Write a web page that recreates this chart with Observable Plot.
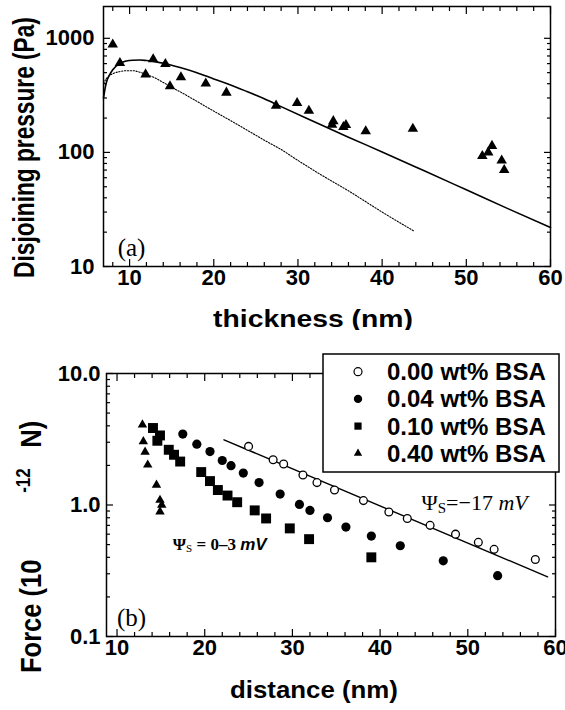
<!DOCTYPE html>
<html><head><meta charset="utf-8">
<script src="https://cdn.jsdelivr.net/npm/d3@7"></script>
<script src="https://cdn.jsdelivr.net/npm/@observablehq/plot@0.6"></script>
<style>
body{margin:0;background:#fff;}
#wrap{position:relative;width:565px;height:710px;background:#fff;overflow:hidden;}
#wrap svg{position:absolute;left:0;overflow:visible;}
</style></head><body><div id="wrap"></div>
<script>
// ---------- Panel (a) data ----------
const aThickness = [8.0, 8.85, 11.9, 12.8, 14.25, 14.8, 16.1, 19.05, 21.5, 27.4, 29.9, 31.3, 34.2, 34.05, 35.4, 35.7, 38.05, 43.65, 51.9, 52.6, 53.05, 54.2, 54.5];
const aPressure  = [881, 607, 483, 655, 596, 380, 455, 401, 334, 257, 271, 232, 188, 175, 167, 174, 153, 161, 93, 100, 114, 85, 70];
const solidX = [6.9, 7.2, 7.6, 8.0, 8.8, 9.6, 10.4, 11.2, 12, 13, 14, 16, 18, 20, 22, 24, 26, 28, 32, 36, 40, 45, 50, 55, 60];
const solidY = [300, 400, 475, 530, 600, 632, 643, 645, 638, 625, 605, 555, 500, 440, 390, 340, 295, 252, 185, 136, 101, 69, 47, 32, 22];
const dottedX = [6.9, 7.2, 7.6, 8, 8.8, 9.6, 10.4, 11.2, 12, 13, 14, 15, 16, 18, 20, 22, 24, 26, 28, 30, 33, 36, 40, 43.85];
const dottedY = [400, 440, 470, 490, 510, 520, 520, 505, 480, 450, 410, 372, 340, 280, 230, 190, 156, 128, 106, 85, 62, 46, 30, 20.3];
const aXTicks = [10, 20, 30, 40, 50, 60];
const aXMinor = [8, 12, 14, 16, 18, 22, 24, 26, 28, 32, 34, 36, 38, 42, 44, 46, 48, 52, 54, 56, 58];
const aYTicks = [10, 100, 1000];
const aYLabels = ["10", "100", "1000"];
const aYMinor = [20, 30, 40, 50, 60, 70, 80, 90, 200, 300, 400, 500, 600, 700, 800, 900];

// ---------- Panel (b) data ----------
const bSeries = ["0.00 wt% BSA", "0.04 wt% BSA", "0.10 wt% BSA", "0.40 wt% BSA"];
const bsa000X = [25.0, 27.8, 29.0, 31.2, 32.8, 34.8, 38.1, 41.0, 43.1, 45.7, 48.6, 51.2, 53.0, 57.7];
const bsa000F = [2.79, 2.21, 2.05, 1.69, 1.48, 1.30, 1.08, 0.885, 0.79, 0.70, 0.60, 0.52, 0.46, 0.385];
const bsa004X = [17.5, 19.1, 20.6, 22.0, 23.0, 24.4, 26.2, 28.6, 30.8, 32.0, 34.0, 36.1, 39.0, 42.3, 47.2, 53.4];
const bsa004F = [3.46, 2.90, 2.55, 2.18, 1.99, 1.75, 1.48, 1.21, 1.01, 0.91, 0.80, 0.68, 0.58, 0.49, 0.376, 0.29];
const bsa010X = [14.1, 14.9, 14.6, 15.9, 16.5, 17.2, 19.6, 20.6, 21.5, 22.6, 23.7, 25.7, 27.0, 29.7, 31.9, 39.0];
const bsa010F = [3.85, 3.38, 3.08, 2.63, 2.41, 2.14, 1.78, 1.52, 1.30, 1.18, 1.05, 0.91, 0.79, 0.664, 0.55, 0.40];
const bsa040X = [12.9, 13.0, 13.2, 13.5, 14.5, 14.9, 15.1, 14.9];
const bsa040F = [4.08, 3.04, 2.53, 2.02, 1.42, 1.09, 1.0, 0.89];
const fitX = [22.2, 59.1];
const fitF = [3.13, 0.284];
const bXTicks = [10, 20, 30, 40, 50, 60];
const bXMinor = [12, 14, 16, 18, 22, 24, 26, 28, 32, 34, 36, 38, 42, 44, 46, 48, 52, 54, 56, 58];
const bYTicks = [0.1, 1, 10];
const bYLabels = ["0.1", "1.0", "10.0"];
const bYMinor = [0.2, 0.3, 0.4, 0.5, 0.6, 0.7, 0.8, 0.9, 2, 3, 4, 5, 6, 7, 8, 9];
// annotation anchors (data coordinates)
const noteHigh = {x: 44.78, y: 0.905, value: "−17"};
const noteLow = {x: 16.42, y: 0.453, value: "0–3"};

const zip = (xs, ys) => xs.map((x, i) => ({x, y: ys[i]}));
const SANS = "'Liberation Sans', Arial, Helvetica, sans-serif";
const SERIF = "'Liberation Serif', 'Times New Roman', serif";

function frameAxes(xMaj, xMin, yMaj, yMin, yFmt, xPad, yPad) {
  const tk = {fill: "none", strokeWidth: 1.2, label: null};
  return [
    Plot.axisX(xMaj, {...tk, anchor: "bottom", tickSize: 7, insetBottom: 7}),
    Plot.axisX(xMin, {...tk, anchor: "bottom", tickSize: 4, insetBottom: 4}),
    Plot.axisX(xMaj, {...tk, anchor: "top", tickSize: 7, insetTop: 7}),
    Plot.axisX(xMin, {...tk, anchor: "top", tickSize: 4, insetTop: 4}),
    Plot.axisY(yMaj, {...tk, anchor: "left", tickSize: 7, insetLeft: 7}),
    Plot.axisY(yMin, {...tk, anchor: "left", tickSize: 4, insetLeft: 4}),
    Plot.axisY(yMaj, {...tk, anchor: "right", tickSize: 7, insetRight: 7}),
    Plot.axisY(yMin, {...tk, anchor: "right", tickSize: 4, insetRight: 4}),
    Plot.axisX(xMaj, {anchor: "bottom", tickSize: 0, tickPadding: xPad, fontSize: 22, fontWeight: "bold", label: null}),
    Plot.axisY(yMaj, {anchor: "left", tickSize: 0, tickPadding: yPad, tickFormat: yFmt, fontSize: 22, fontWeight: "bold", label: null})
  ];
}

// a title fitted to a given length by scaling along its baseline
function fittedTitle(sel, str, cx, cy, size, len, rotate) {
  const g = sel.append("g").attr("transform", `translate(${cx},${cy})${rotate ? " rotate(-90)" : ""}`);
  const t = g.append("text").attr("text-anchor", "middle").attr("font-family", SANS)
    .attr("font-weight", "bold").attr("font-size", size).attr("fill", "black").text(str);
  const w = t.node().getComputedTextLength();
  t.attr("transform", `scale(${len / w},1)`);
  return t;
}

const wrap = document.getElementById("wrap");

// ---------- Panel (a) ----------
const plotA = Plot.plot({
  width: 565, height: 330,
  marginLeft: 103, marginRight: 15, marginTop: 6, marginBottom: 64,
  style: {fontFamily: SANS, color: "black", background: "white", overflow: "visible"},
  x: {type: "linear", domain: [6.9, 60]},
  y: {type: "log", domain: [10, 1900]},
  marks: [
    Plot.line(zip(dottedX, dottedY), {x: "x", y: "y", curve: "monotone-x", stroke: "black", strokeWidth: 1.1, strokeDasharray: "1.3,1.6"}),
    Plot.line(zip(solidX, solidY), {x: "x", y: "y", curve: "monotone-x", stroke: "black", strokeWidth: 1.6}),
    Plot.dot(zip(aThickness, aPressure), {x: "x", y: "y", symbol: "triangle", fill: "black", r: 3.9}),
    Plot.text(["(a)"], {frameAnchor: "bottom-left", dx: 28, dy: -19, lineAnchor: "middle", textAnchor: "middle", fontFamily: SERIF, fontSize: 25}),
    ...frameAxes(aXTicks, aXMinor, aYTicks, aYMinor, d => aYLabels[aYTicks.indexOf(d)], 3, 9),
    Plot.frame({stroke: "black", strokeWidth: 1.5})
  ]
});
plotA.style.top = "0px";
wrap.appendChild(plotA);
{
  const s = d3.select(plotA);
  fittedTitle(s, "Disjoining pressure (Pa)", 34, 147.5, 29, 261, true);
  fittedTitle(s, "thickness (nm)", 313, 327, 24, 200, false);
}

// ---------- Panel (b) ----------
const plotB = Plot.plot({
  width: 565, height: 380,
  marginLeft: 106, marginRight: 10, marginTop: 43, marginBottom: 74,
  style: {fontFamily: SANS, color: "black", background: "white", overflow: "visible"},
  x: {type: "linear", domain: [8.8, 60]},
  y: {type: "log", domain: [0.1, 10]},
  marks: [
    Plot.line(zip(fitX, fitF), {x: "x", y: "y", stroke: "black", strokeWidth: 1.4}),
    Plot.dot(zip(bsa040X, bsa040F), {x: "x", y: "y", symbol: "triangle", fill: "black", r: 3.5}),
    Plot.dot(zip(bsa010X, bsa010F), {x: "x", y: "y", symbol: "square", fill: "black", r: 5.6}),
    Plot.dot(zip(bsa004X, bsa004F), {x: "x", y: "y", symbol: "circle", fill: "black", r: 4.6}),
    Plot.dot(zip(bsa000X, bsa000F), {x: "x", y: "y", symbol: "circle", fill: "white", stroke: "black", strokeWidth: 1.3, r: 3.9}),
    Plot.text(["(b)"], {frameAnchor: "bottom-left", dx: 25, dy: -19, lineAnchor: "middle", textAnchor: "middle", fontFamily: SERIF, fontSize: 25}),
    ...frameAxes(bXTicks, bXMinor, bYTicks, bYMinor, d => bYLabels[bYTicks.indexOf(d)], 3, 6),
    Plot.frame({stroke: "black", strokeWidth: 1.5})
  ]
});
plotB.style.top = "330px";
wrap.appendChild(plotB);
{
  const s = d3.select(plotB);
  const sx = plotB.scale("x"), sy = plotB.scale("y");
  // y title with superscript: reads upward from page y = 673
  const g = s.append("g").attr("transform", "translate(41,343) rotate(-90) scale(0.85,1)");
  const t = g.append("text").attr("text-anchor", "start").attr("font-family", SANS)
    .attr("font-weight", "bold").attr("font-size", 30).attr("fill", "black");
  t.append("tspan").attr("x", 0).text("Force (10");
  t.append("tspan").attr("x", 212).attr("dy", -11).attr("font-size", 20).text("-12");
  t.append("tspan").attr("x", 265).attr("dy", 11).text("N)");
  fittedTitle(s, "distance (nm)", 314, 368, 24, 168, false);
  // annotations
  const a1 = s.append("text").attr("x", sx.apply(noteHigh.x)).attr("y", sy.apply(noteHigh.y))
    .attr("text-anchor", "start")
    .attr("font-family", SERIF).attr("font-size", 22).attr("fill", "black");
  a1.append("tspan").text("Ψ");
  a1.append("tspan").attr("font-size", 15).attr("dy", 3).text("S");
  a1.append("tspan").attr("dy", -3).text("=" + noteHigh.value + " ");
  a1.append("tspan").attr("font-style", "italic").text("mV");
  const a2 = s.append("text").attr("x", sx.apply(noteLow.x)).attr("y", sy.apply(noteLow.y))
    .attr("text-anchor", "start")
    .attr("font-family", SERIF).attr("font-weight", "bold").attr("font-size", 17).attr("fill", "black");
  a2.append("tspan").text("Ψ");
  a2.append("tspan").attr("font-size", 11).attr("font-weight", "normal").attr("dy", 2).text("S");
  a2.append("tspan").attr("dy", -2).text(" = " + noteLow.value + " ");
  a2.append("tspan").attr("font-style", "italic").attr("font-family", SANS).text("mV");
  // legend
  const lg = s.append("g");
  lg.append("rect").attr("x", 323).attr("y", 24).attr("width", 236).attr("height", 118)
    .attr("fill", "white").attr("stroke", "black").attr("stroke-width", 1.5);
  const syms = [
    {type: d3.symbolCircle, size: 50, fill: "white", stroke: "black"},
    {type: d3.symbolCircle, size: 55, fill: "black", stroke: "none"},
    {type: d3.symbolSquare, size: 52, fill: "black", stroke: "none"},
    {type: d3.symbolTriangle, size: 30, fill: "black", stroke: "none"}
  ];
  bSeries.forEach((name, i) => {
    const cy = 41.7 + i * 27.2;
    lg.append("path").attr("transform", `translate(358,${cy})`)
      .attr("d", d3.symbol(syms[i].type, syms[i].size)())
      .attr("fill", syms[i].fill).attr("stroke", syms[i].stroke).attr("stroke-width", 1.2);
    lg.append("text").attr("x", 387).attr("y", cy + 8.5).attr("text-anchor", "start")
      .attr("font-family", SANS).attr("font-weight", "bold").attr("font-size", 24)
      .attr("fill", "black").text(name);
  });
}
</script></body></html>
